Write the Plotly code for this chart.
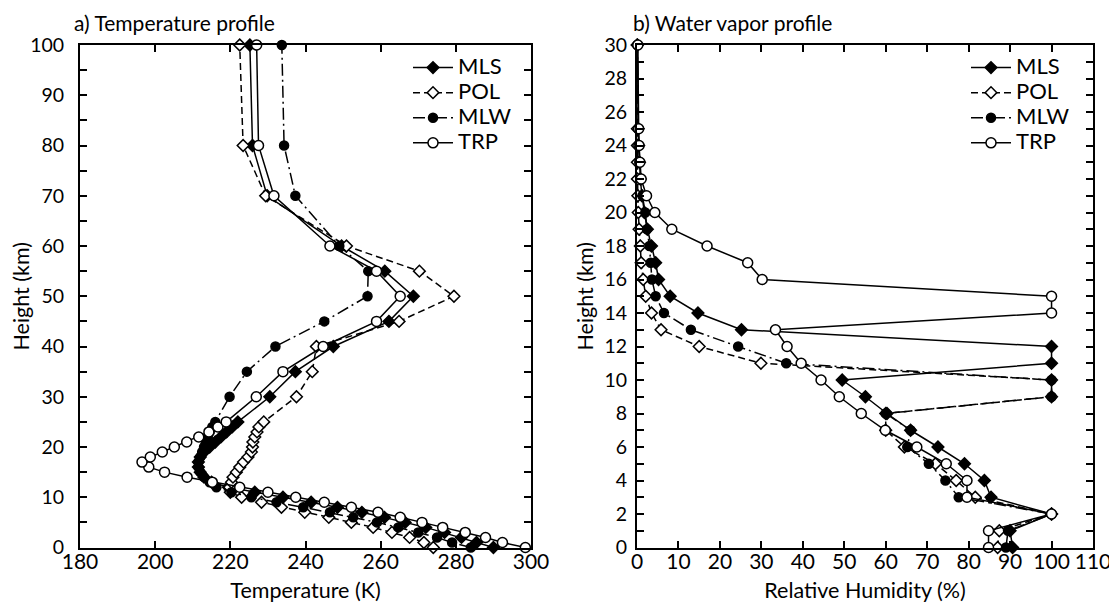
import plotly.graph_objects as go

# ---------------- data ----------------
H_T = list(range(0, 26)) + [30, 35, 40, 45, 50, 55, 60, 70, 80, 100]

MLS_T = [290.0, 285.5, 281.5, 277.0, 272.0, 266.5, 261.0, 255.0, 248.5, 241.5,
         234.0, 226.5, 219.5, 215.0, 213.0, 212.0, 211.5, 211.5, 212.0, 213.0,
         214.5, 216.0, 217.5, 219.0, 220.5, 222.0,
         230.5, 237.3, 247.4, 262.2, 268.7, 261.1, 249.6, 229.8, 225.9, 225.2]
POL_T = [274.0, 271.5, 267.7, 263.0, 258.0, 252.2, 246.2, 239.8, 233.6, 228.3,
         223.0, 220.0, 219.8, 220.3, 220.7, 221.6, 222.5, 223.5, 224.7, 225.6,
         225.9, 226.0, 226.5, 227.1, 227.6, 228.9,
         237.6, 241.8, 242.9, 264.9, 279.5, 270.3, 250.9, 229.4, 223.4, 222.5]
MLW_T = [284.0, 279.0, 275.0, 270.0, 264.7, 259.0, 252.7, 246.5, 239.4, 232.3,
         225.6, 220.3, 216.3, 214.5, 213.0, 212.0, 211.5, 211.5, 212.0, 212.5,
         213.0, 213.5, 214.0, 214.5, 215.2, 216.0,
         219.8, 224.4, 232.0, 245.0, 256.5, 256.7, 249.0, 237.3, 234.3, 233.7]
TRP_T = [298.5, 292.4, 287.9, 282.5, 276.5, 271.0, 265.2, 259.3, 252.2, 245.0,
         237.4, 230.0, 222.5, 215.2, 208.5, 202.5, 198.3, 196.5, 198.7, 201.9,
         205.1, 208.4, 211.6, 214.3, 216.7, 218.9,
         226.9, 234.0, 244.7, 258.9, 265.2, 258.9, 246.5, 231.6, 227.5, 227.0]

H_RH = list(range(0, 26)) + [30]

MLS_RH = [90.6, 90.0, 100, 85.4, 83.8, 79.0, 72.6, 66.0, 60.3, 55.1,
          49.5, 100, 100, 25.2, 14.7, 8.0, 5.2, 4.5, 3.5, 2.5,
          1.8, 1.2, 0.8, 0.6, 0.4, 0.3, 0.1]
POL_RH = [87.0, 87.4, 100, 81.6, 77.0, 72.0, 64.5, 60.0, 60.0, 100,
          100, 29.9, 15.0, 5.8, 3.5, 2.1, 1.5, 1.0, 0.8, 0.5,
          0.3, 0.2, 0.1, 0.1, 0.1, 0.1, 0.05]
MLW_RH = [89.0, 89.5, 100, 77.6, 74.4, 70.4, 65.2, 66.0, 60.0, 100,
          100, 36.0, 24.4, 13.0, 6.5, 4.5, 3.6, 3.3, 3.0, 2.4,
          2.0, 1.3, 0.9, 0.6, 0.4, 0.3, 0.1]
TRP_RH = [84.8, 84.8, 100, 79.6, 79.6, 74.6, 67.5, 59.9, 54.1, 48.8,
          44.4, 39.6, 36.2, 33.4, 100, 100, 30.2, 26.7, 16.9, 8.4,
          4.3, 2.3, 1.0, 0.7, 0.5, 0.4, 0.2]

SERIES = ["MLS", "POL", "MLW", "TRP"]
T_VALUES = [MLS_T, POL_T, MLW_T, TRP_T]
RH_VALUES = [MLS_RH, POL_RH, MLW_RH, TRP_RH]

# ---------------- styles ----------------
FONT = "Lato, 'Open Sans', sans-serif"
STYLE = {
    "MLS": dict(dash="solid", symbol="diamond", fill="black", size=9),
    "POL": dict(dash="7px,4px", symbol="diamond", fill="white", size=9),
    "MLW": dict(dash="12px,4px,2px,4px", symbol="circle", fill="black", size=9),
    "TRP": dict(dash="solid", symbol="circle", fill="white", size=10),
}


def legend_label(name):
    return "<span style='font-size:22px'>%s</span>" % name


fig = go.Figure()

for name, vals in zip(SERIES, T_VALUES):
    s = STYLE[name]
    fig.add_trace(go.Scatter(
        x=vals, y=H_T, mode="lines+markers", name=legend_label(name),
        line=dict(color="black", width=1.5, dash=s["dash"]),
        marker=dict(symbol=s["symbol"], size=s["size"], color=s["fill"],
                    line=dict(color="black", width=1.5)),
        cliponaxis=False, xaxis="x", yaxis="y", legend="legend"))

for name, vals in zip(SERIES, RH_VALUES):
    s = STYLE[name]
    fig.add_trace(go.Scatter(
        x=vals, y=H_RH, mode="lines+markers", name=legend_label(name),
        line=dict(color="black", width=1.5, dash=s["dash"]),
        marker=dict(symbol=s["symbol"], size=s["size"], color=s["fill"],
                    line=dict(color="black", width=1.5)),
        cliponaxis=False, xaxis="x2", yaxis="y2", legend="legend2"))

# The page body has an 8px default margin, so the figure is drawn 8px lower and
# further right; all positions below are given in figure pixels (= page - 8).
W, Hh = 1105, 595


def px(x):
    return x / W


def py(y):
    return (Hh - y) / Hh


ydom = [py(539.5), py(37)]

common = dict(showgrid=False, zeroline=False, showline=True, linecolor="black",
              linewidth=2, ticks="inside", ticklen=7, tickwidth=1.5,
              tickcolor="black", mirror="allticks", automargin=False,
              title_font=dict(family=FONT, size=21.5, color="black"))
xfont = dict(family=FONT, size=21, color="black")
yfont = dict(family=FONT, size=19.5, color="black")
minor_common = dict(ticks="inside", ticklen=7, tickwidth=1.5, tickcolor="black")

fig.update_layout(
    width=W, height=Hh,
    margin=dict(l=0, r=0, t=0, b=0, autoexpand=False),
    paper_bgcolor="white", plot_bgcolor="white",
    font=dict(family=FONT, color="black"),
    xaxis=dict(domain=[px(72), px(523)], range=[180, 300], tick0=180, dtick=20,
               anchor="y", tickfont=xfont, tickangle=0,
               title=dict(text="Temperature (K)", standoff=12),
               ticklabelstandoff=-6, **common),
    yaxis=dict(domain=ydom, range=[0, 100], tick0=0, dtick=10, anchor="x",
               tickfont=yfont, minor=dict(dtick=5, **minor_common),
               title=dict(text="Height (km)", standoff=6),
               ticklabelstandoff=10, **common),
    xaxis2=dict(domain=[px(629), px(1085)], range=[0, 110], tick0=0, dtick=10,
                anchor="y2", tickfont=xfont, tickangle=0,
                title=dict(text="Relative Humidity (%)", standoff=12),
                ticklabelstandoff=-6, **common),
    yaxis2=dict(domain=ydom, range=[0, 30], tick0=0, dtick=2, anchor="x2",
                tickfont=yfont, minor=dict(dtick=1, **minor_common),
                title=dict(text="Height (km)", standoff=5),
                ticklabelstandoff=4, **common),
    legend=dict(x=px(400), y=py(42), xanchor="left", yanchor="top",
                bgcolor="rgba(0,0,0,0)", font=dict(family=FONT, size=17),
                itemwidth=40),
    legend2=dict(x=px(958), y=py(42), xanchor="left", yanchor="top",
                 bgcolor="rgba(0,0,0,0)", font=dict(family=FONT, size=17),
                 itemwidth=40),
    annotations=[
        dict(text="a) Temperature profile", x=px(64), y=py(0),
             xref="paper", yref="paper", xanchor="left", yanchor="top",
             showarrow=False, font=dict(family=FONT, size=21, color="black")),
        dict(text="b) Water vapor profile", x=px(623), y=py(0),
             xref="paper", yref="paper", xanchor="left", yanchor="top",
             showarrow=False, font=dict(family=FONT, size=21, color="black")),
    ],
)

fig.write_html("out.html")
